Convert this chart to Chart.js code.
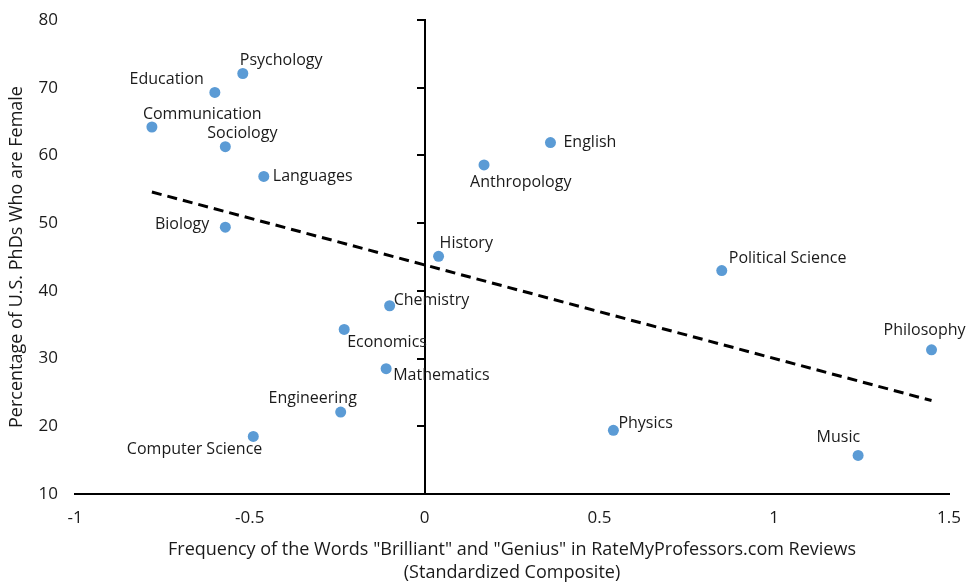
<!DOCTYPE html>
<html>
<head>
<meta charset="utf-8">
<script src="https://cdn.jsdelivr.net/npm/chart.js@4.4.1/dist/chart.umd.min.js"></script>
<style>
  html, body { margin: 0; padding: 0; background: #fff; }
  #wrap { width: 979px; height: 585px; }
</style>
</head>
<body>
<div id="wrap"><canvas id="chart"></canvas></div>
<script>
// fields of study
const fields = [
  "Psychology", "Education", "Communication", "Sociology", "Languages", "Biology",
  "English", "Anthropology", "History", "Political Science", "Chemistry", "Economics",
  "Philosophy", "Mathematics", "Engineering", "Physics", "Computer Science", "Music"
];
// "brilliant"/"genius" frequency (standardized composite)
const brilliance = [
  -0.52, -0.60, -0.78, -0.57, -0.46, -0.57,
  0.36, 0.17, 0.04, 0.85, -0.10, -0.23,
  1.45, -0.11, -0.24, 0.54, -0.49, 1.24
];
// percentage of US PhDs who are female
const femalePct = [
  72.1, 69.3, 64.2, 61.3, 56.9, 49.4,
  61.9, 58.6, 45.1, 43.0, 37.8, 34.3,
  31.3, 28.5, 22.1, 19.4, 18.5, 15.7
];
// fitted trend line end points
const trendX = [-0.78, 1.45];
const trendY = [54.6, 23.8];

const xTicks = [-1, -0.5, 0, 0.5, 1, 1.5];
const yTicks = [10, 20, 30, 40, 50, 60, 70, 80];

// where each name sits next to its dot: [dx, dy, textAlign]
const labelPlacement = {
  "Psychology": [-3, -13, "left"],
  "Education": [-11, -13, "right"],
  "Communication": [-9, -13, "left"],
  "Sociology": [-18, -13, "left"],
  "Languages": [9, 0, "left"],
  "Biology": [-16, -3, "right"],
  "English": [13, 0, "left"],
  "Anthropology": [-14, 18, "left"],
  "History": [1, -13, "left"],
  "Political Science": [7, -12, "left"],
  "Chemistry": [4, -5, "left"],
  "Economics": [3, 13, "left"],
  "Philosophy": [-7, -19, "center"],
  "Mathematics": [7, 7, "left"],
  "Engineering": [-28, -14, "center"],
  "Physics": [5, -7, "left"],
  "Computer Science": [9, 13, "right"],
  "Music": [2, -18, "right"]
};

const textColor = "#1a1a1a";
Chart.defaults.font.family = "'Open Sans', sans-serif";
Chart.defaults.color = textColor;

const pointLabels = {
  id: "pointLabels",
  afterDatasetsDraw(chart) {
    const ctx = chart.ctx;
    const meta = chart.getDatasetMeta(0);
    ctx.save();
    ctx.font = "16px 'Open Sans', sans-serif";
    ctx.fillStyle = textColor;
    ctx.textBaseline = "middle";
    meta.data.forEach((pt, i) => {
      const [dx, dy, align] = labelPlacement[fields[i]];
      ctx.textAlign = align;
      ctx.fillText(fields[i], pt.x + dx, pt.y + dy);
    });
    ctx.restore();
  }
};

const setTicks = list => scale => { scale.ticks = list.map(v => ({ value: v })); };
const noEdgePad = s => { s.paddingTop = 0; s.paddingBottom = 0; };

new Chart(document.getElementById("chart"), {
  type: "scatter",
  data: {
    datasets: [
      {
        label: "Fields",
        data: fields.map((f, i) => ({ x: brilliance[i], y: femalePct[i] })),
        backgroundColor: "#5B9BD5",
        borderWidth: 0,
        pointRadius: 5.5,
        pointHoverRadius: 5.5
      },
      {
        label: "Trend",
        data: trendX.map((x, i) => ({ x: x, y: trendY[i] })),
        showLine: true,
        borderColor: "#000",
        borderWidth: 3,
        borderDash: [10, 6],
        pointRadius: 0,
        fill: false
      }
    ]
  },
  options: {
    responsive: true,
    maintainAspectRatio: false,
    animation: false,
    layout: { autoPadding: false, padding: { left: 6, right: 30, top: 20, bottom: 0 } },
    plugins: { legend: { display: false }, tooltip: { enabled: false } },
    scales: {
      x: {
        type: "linear",
        position: "bottom",
        min: -1,
        max: 1.5,
        afterBuildTicks: setTicks(xTicks),
        afterFit: s => { s.height = 91; },
        grid: { display: false, drawTicks: false },
        border: { display: true, color: "#000", width: 2 },
        ticks: { font: { size: 17 }, padding: 14, color: textColor, callback: v => String(v) },
        title: {
          display: true,
          text: ['Frequency of the Words "Brilliant" and "Genius" in RateMyProfessors.com Reviews', "(Standardized Composite)"],
          font: { size: 18, lineHeight: 1.3 },
          color: textColor,
          padding: { top: 6, bottom: 0 }
        }
      },
      y: {
        type: "linear",
        position: "left",
        min: 10,
        max: 80,
        afterBuildTicks: setTicks(yTicks),
        afterFit: s => { s.width = 69; noEdgePad(s); },
        grid: { display: false, drawTicks: false },
        border: { display: false },
        ticks: { font: { size: 17 }, padding: 17, color: textColor },
        title: {
          display: true,
          text: "Percentage of U.S. PhDs Who are Female",
          font: { size: 18 },
          color: textColor,
          padding: { top: 0, bottom: 4 }
        }
      },
      y2: {
        type: "linear",
        axis: "y",
        position: { x: 0 },
        min: 10,
        max: 80,
        afterBuildTicks: setTicks(yTicks),
        afterFit: noEdgePad,
        ticks: { display: false },
        grid: { display: true, drawOnChartArea: false, drawTicks: true, tickLength: 7, color: "#000", lineWidth: 2 },
        border: { display: true, color: "#000", width: 2 }
      }
    }
  },
  plugins: [pointLabels]
});
</script>
</body>
</html>
